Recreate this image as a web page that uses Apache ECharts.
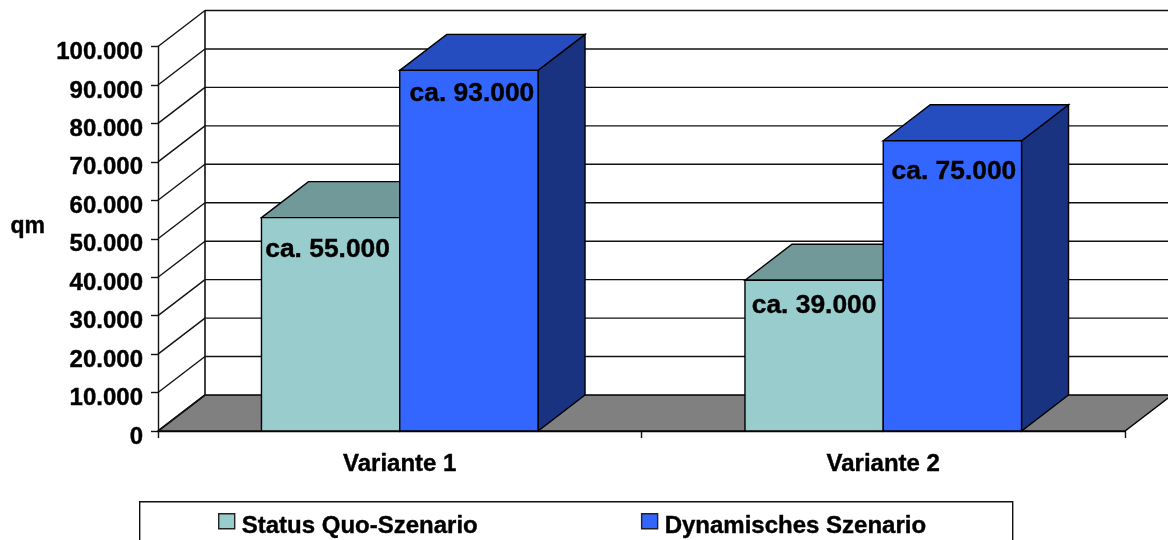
<!DOCTYPE html>
<html>
<head>
<meta charset="utf-8">
<style>html,body{margin:0;padding:0;background:#fff}#c{width:1168px;height:540px}</style>
<script src="https://cdn.jsdelivr.net/npm/echarts@6/dist/echarts.min.js"></script>
</head>
<body>
<div id="c"></div>
<script>
const categories = ['Variante 1', 'Variante 2'];
const seriesNames = ['Status Quo-Szenario', 'Dynamisches Szenario'];
const statusQuoValues = [55500, 39200];
const dynamischValues = [93800, 75500];
const statusQuoLabels = ['ca. 55.000', 'ca. 39.000'];
const dynamischLabels = ['ca. 93.000', 'ca. 75.000'];
const yTicks = [0, 10000, 20000, 30000, 40000, 50000, 60000, 70000, 80000, 90000, 100000];

const FONT = '"Liberation Sans", Arial, sans-serif';
const DX = 47, DY = -36, LINE = 1.4, BAR_RATIO = 0.286;
const LABEL_NUDGE = [[[-3, 32], [0, 25.5]], [[3, 23.5], [1.5, 31]]];
const HEAVY = { textBorderColor: '#000', textBorderWidth: 0.4 };

function poly(points, fill) {
  return { type: 'polygon', shape: { points }, style: { fill, stroke: '#000', lineWidth: LINE, lineJoin: 'miter' } };
}
function line(x1, y1, x2, y2, w) {
  return { type: 'line', shape: { x1, y1, x2, y2 }, style: { stroke: '#111', lineWidth: w || LINE } };
}

function renderWalls(params, api) {
  const g = params.coordSys, left = g.x, right = g.x + g.width;
  const base = api.coord([0, 0])[1];
  const top = api.coord([0, 100000])[1];
  const kids = [];
  kids.push(poly([[left, base], [left + DX, base + DY], [right + DX, base + DY], [right, base]], '#808080'));
  yTicks.forEach(function (t) {
    if (t === 0) return;
    const y = api.coord([0, t])[1];
    kids.push(line(left, y, left + DX, y + DY));
    kids.push(line(left + DX, y + DY, right + DX, y + DY));
  });
  kids.push(line(left + DX, top + DY, left + DX, base + DY, 1.6));
  kids.push(line(left, base, left + DX, base + DY, 1.6));
  return { type: 'group', children: kids };
}

function makeBarRenderer(seriesIndex, colors, labels) {
  return function (params, api) {
    const idx = api.value(0);
    const p = api.coord([idx, api.value(1)]);
    const b = api.coord([idx, 0]);
    const w = api.size([1, 0])[0] * BAR_RATIO;
    const x0 = seriesIndex === 0 ? p[0] - w : p[0];
    const x1 = x0 + w, yt = p[1], yb = b[1];
    const n = LABEL_NUDGE[seriesIndex][idx];
    return {
      type: 'group',
      children: [
        poly([[x1, yt], [x1 + DX, yt + DY], [x1 + DX, yb + DY], [x1, yb]], colors.side),
        poly([[x0, yt], [x0 + DX, yt + DY], [x1 + DX, yt + DY], [x1, yt]], colors.top),
        poly([[x0, yt], [x1, yt], [x1, yb], [x0, yb]], colors.front),
        {
          type: 'text',
          z2: 10,
          style: Object.assign({
            x: (x0 + x1) / 2 + n[0], y: yt + n[1], text: labels[idx],
            fill: '#000', font: 'bold 26.4px ' + FONT, align: 'center', verticalAlign: 'middle'
          }, { stroke: '#000', lineWidth: 0.4 })
        }
      ]
    };
  };
}

const chart = echarts.init(document.getElementById('c'), null, { renderer: 'canvas' });
chart.setOption({
  animation: false,
  backgroundColor: '#fff',
  grid: { left: 158, right: 43, top: 46.5, bottom: 109, containLabel: false, outerBoundsMode: 'none' },
  xAxis: {
    type: 'category',
    data: categories,
    boundaryGap: true,
    axisLine: { show: true, lineStyle: { color: '#111', width: 1.4 } },
    axisTick: { show: true, alignWithLabel: false, length: 7, lineStyle: { color: '#111', width: 1.4 } },
    axisLabel: Object.assign({ color: '#000', fontFamily: FONT, fontWeight: 'bold', fontSize: 24, margin: 21 }, HEAVY)
  },
  yAxis: {
    type: 'value',
    min: 0,
    max: 100000,
    interval: 10000,
    name: 'qm',
    nameLocation: 'middle',
    nameRotate: 0,
    nameGap: 113,
    nameTextStyle: Object.assign({ color: '#000', fontFamily: FONT, fontWeight: 'bold', fontSize: 23, verticalAlign: 'bottom', lineHeight: 24 }, HEAVY),
    axisLine: { show: true, lineStyle: { color: '#111', width: 1.4 } },
    axisTick: { show: true, length: 7, lineStyle: { color: '#111', width: 1.4 } },
    splitLine: { show: false },
    axisLabel: Object.assign({
      color: '#000', fontFamily: FONT, fontWeight: 'bold', fontSize: 24, margin: 15,
      verticalAlign: 'top', lineHeight: 12,
      formatter: function (v) { return String(v).replace(/\B(?=(\d{3})+(?!\d))/g, '.'); }
    }, HEAVY)
  },
  legend: {
    left: 213,
    top: 508,
    padding: 5,
    data: seriesNames,
    itemWidth: 16,
    itemHeight: 15,
    itemGap: 163,
    selectedMode: false,
    icon: 'rect',
    itemStyle: { borderColor: '#222', borderWidth: 1.4 },
    formatter: '{t|{name}}',
    textStyle: {
      color: '#000', fontFamily: FONT, fontWeight: 'bold', fontSize: 24,
      rich: {
        t: Object.assign({ color: '#000', fontFamily: FONT, fontWeight: 'bold', fontSize: 24, padding: [10, 0, 0, 2] }, HEAVY)
      }
    }
  },
  graphic: [{
    type: 'rect', left: 139, top: 501, z: -1, silent: true,
    shape: { width: 873, height: 60 },
    style: { fill: '#fff', stroke: '#111', lineWidth: 1.4 }
  }],
  series: [
    {
      type: 'custom', name: 'walls', z: 1, silent: true, clip: false,
      data: [[0, 0]],
      renderItem: renderWalls
    },
    {
      type: 'custom', name: seriesNames[0], z: 2, silent: true, clip: false,
      itemStyle: { color: '#99CCCC' },
      data: statusQuoValues.map(function (v, i) { return [i, v]; }),
      encode: { x: 0, y: 1 },
      renderItem: makeBarRenderer(0, { front: '#99CCCC', top: '#729999', side: '#4D6666' }, statusQuoLabels)
    },
    {
      type: 'custom', name: seriesNames[1], z: 3, silent: true, clip: false,
      itemStyle: { color: '#3366FF' },
      data: dynamischValues.map(function (v, i) { return [i, v]; }),
      encode: { x: 0, y: 1 },
      renderItem: makeBarRenderer(1, { front: '#3366FF', top: '#264DBF', side: '#1A3380' }, dynamischLabels)
    }
  ]
});
</script>
</body>
</html>
